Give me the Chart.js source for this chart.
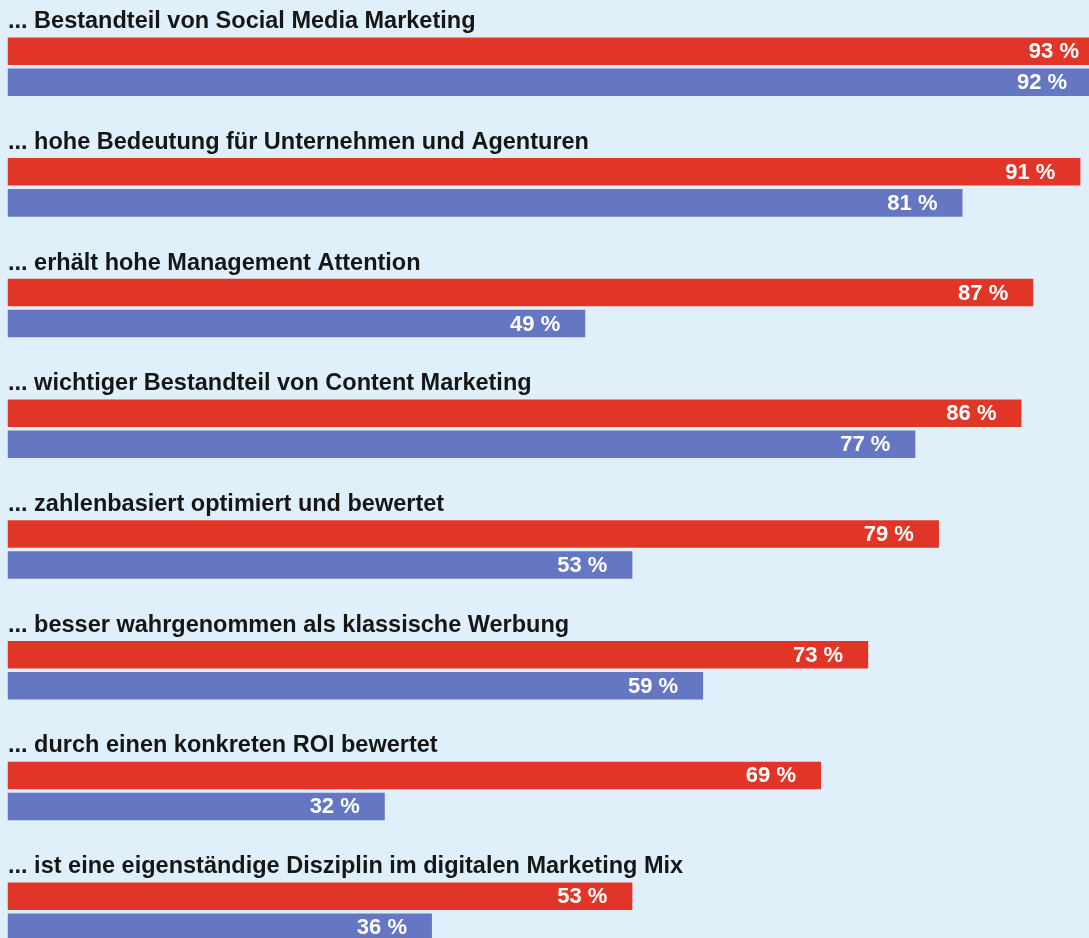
<!DOCTYPE html>
<html lang="de">
<head>
<meta charset="utf-8">
<title>Social Media Marketing</title>
<script src="https://cdn.jsdelivr.net/npm/chart.js@4"></script>
<style>
  html, body { margin: 0; padding: 0; background: #dff0fa; overflow: hidden; }
  #wrap { position: relative; width: 1089px; height: 972px; }
</style>
</head>
<body>
<div id="wrap"><canvas id="chart"></canvas></div>
<script>
// Aussagen (Kategorien)
const categories = [
    '... Bestandteil von Social Media Marketing',
    '... hohe Bedeutung für Unternehmen und Agenturen',
    '... erhält hohe Management Attention',
    '... wichtiger Bestandteil von Content Marketing',
    '... zahlenbasiert optimiert und bewertet',
    '... besser wahrgenommen als klassische Werbung',
    '... durch einen konkreten ROI bewertet',
    '... ist eine eigenständige Disziplin im digitalen Marketing Mix'
];
const redValues = [93, 91, 87, 86, 79, 73, 69, 53];
const blueValues = [92, 81, 49, 77, 53, 59, 32, 36];

const FONT = '"Liberation Sans", Arial, Helvetica, sans-serif';

// category text above each bar pair + value text inside bar end
const labelPlugin = {
    id: 'barLabels',
    afterDatasetsDraw(chart) {
        const ctx = chart.ctx;
        const yScale = chart.scales.y;
        ctx.save();
        ctx.font = 'bold 23.5px ' + FONT;
        ctx.fillStyle = '#161616';
        ctx.textAlign = 'left';
        ctx.textBaseline = 'alphabetic';
        categories.forEach((cat, i) => {
            const yc = yScale.getPixelForValue(i);
            ctx.fillText(cat, 8, yc - 38.5);
        });

        ctx.font = 'bold 22px ' + FONT;
        ctx.fillStyle = '#ffffff';
        ctx.textAlign = 'right';
        ctx.textBaseline = 'middle';
        chart.data.datasets.forEach((ds, di) => {
            chart.getDatasetMeta(di).data.forEach((bar, i) => {
                ctx.fillText(ds.data[i] + ' %', bar.x - 25, bar.y + 1);
            });
        });
        ctx.restore();
    }
};

new Chart(document.getElementById('chart'), {
    type: 'bar',
    data: {
        labels: categories,
        datasets: [
            {
                label: 'Reihe 1',
                data: redValues,
                backgroundColor: '#e13627',
                categoryPercentage: 0.5138,
                barPercentage: 0.887
            },
            {
                label: 'Reihe 2',
                data: blueValues,
                backgroundColor: '#6577c3',
                categoryPercentage: 0.5138,
                barPercentage: 0.887
            }
        ]
    },
    options: {
        indexAxis: 'y',
        responsive: true,
        maintainAspectRatio: false,
        animation: false,
        layout: { padding: { left: 7.5, right: 0, top: 6.3, bottom: 0 } },
        scales: {
            x: { display: false, min: 0, max: 91.73 },
            y: { display: false }
        },
        plugins: {
            legend: { display: false },
            tooltip: { enabled: false }
        }
    },
    plugins: [labelPlugin]
});
</script>
</body>
</html>
